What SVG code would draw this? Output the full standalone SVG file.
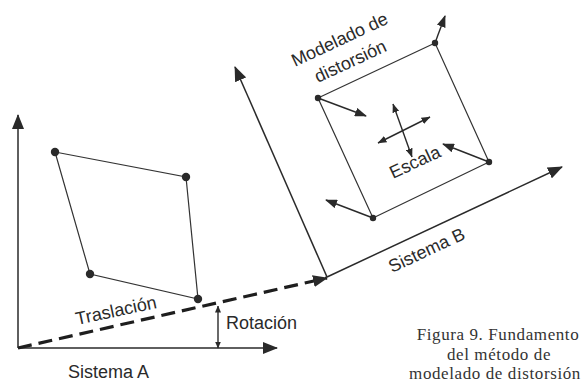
<svg xmlns="http://www.w3.org/2000/svg" width="588" height="382" viewBox="0 0 588 382">
<defs>
<style>
.ax{stroke:#2a2a2a;stroke-width:1.5;fill:none}
.ed{stroke:#333;stroke-width:1.2;fill:none}
.ar{stroke:#2a2a2a;stroke-width:1.4;fill:none}
.dot{fill:#2a2a2a}
.lbl{font-family:"Liberation Sans",Arial,sans-serif;font-size:18px;fill:#2a2a2a}
.cap{font-family:"Liberation Serif","Times New Roman",serif;font-size:17px;letter-spacing:0.6px;fill:#333;text-anchor:middle}
</style>
<marker id="big" markerUnits="userSpaceOnUse" viewBox="0 0 15 12" markerWidth="15" markerHeight="12" refX="14" refY="6" orient="auto-start-reverse"><path d="M0,0 L15,6 L0,12 z" fill="#2a2a2a"/></marker>
<marker id="mid" markerUnits="userSpaceOnUse" viewBox="0 0 12 9" markerWidth="12" markerHeight="9" refX="11" refY="4.5" orient="auto-start-reverse"><path d="M0,0 L12,4.5 L0,9 z" fill="#2a2a2a"/></marker>
<marker id="sm" markerUnits="userSpaceOnUse" viewBox="0 0 9 7" markerWidth="9" markerHeight="7" refX="8.5" refY="3.5" orient="auto-start-reverse"><path d="M0,0 L9,3.5 L0,7 z" fill="#2a2a2a"/></marker>
<marker id="tiny" markerUnits="userSpaceOnUse" viewBox="0 0 7 6" markerWidth="7" markerHeight="6" refX="6.5" refY="3" orient="auto-start-reverse"><path d="M0,0 L7,3 L0,6 z" fill="#2a2a2a"/></marker>
</defs>
<rect width="588" height="382" fill="#fff"/>

<g id="connectors">
<line class="ax" x1="18" y1="348" x2="18" y2="115" marker-end="url(#big)"/>
<line class="ax" x1="18" y1="348" x2="277" y2="348" marker-end="url(#big)"/>
<line x1="18" y1="348" x2="327" y2="278" stroke="#1e1e1e" stroke-width="3.2" stroke-dasharray="14,7" marker-end="url(#big)"/>
<line class="ar" x1="218" y1="306" x2="218" y2="348" marker-start="url(#tiny)" marker-end="url(#tiny)"/>
<line class="ax" x1="327" y1="277" x2="562" y2="167" marker-end="url(#big)"/>
<line class="ax" x1="327" y1="277" x2="235" y2="67" marker-end="url(#big)"/>
<line class="ar" x1="318" y1="98" x2="366" y2="116" marker-end="url(#mid)"/>
<line class="ar" x1="435" y1="43" x2="445" y2="16" marker-end="url(#mid)"/>
<line class="ar" x1="489" y1="162" x2="443" y2="144" marker-end="url(#mid)"/>
<line class="ar" x1="373" y1="218" x2="326" y2="200" marker-end="url(#mid)"/>
<line class="ar" x1="393" y1="104" x2="412" y2="157" marker-start="url(#sm)" marker-end="url(#sm)"/>
<line class="ar" x1="378" y1="143" x2="430" y2="117" marker-start="url(#sm)" marker-end="url(#sm)"/>
</g>

<g id="quadA">
<polygon class="ed" points="55,152 186,177 198,299 90,274"/>
<circle class="dot" cx="55" cy="152" r="4.2"/>
<circle class="dot" cx="186" cy="177" r="4.2"/>
<circle class="dot" cx="198" cy="299" r="4.2"/>
<circle class="dot" cx="90" cy="274" r="4.2"/>
</g>

<g id="quadB">
<polygon class="ed" points="318,98 435,43 489,162 373,218"/>
<circle class="dot" cx="318" cy="98" r="3.2"/>
<circle class="dot" cx="435" cy="43" r="3.2"/>
<circle class="dot" cx="489" cy="162" r="3.2"/>
<circle class="dot" cx="373" cy="218" r="3.2"/>
</g>

<g id="labels">
<text class="lbl" x="77" y="325" transform="rotate(-12 77 325)">Traslación</text>
<text class="lbl" x="226" y="329">Rotación</text>
<text class="lbl" x="68" y="378">Sistema A</text>
<text class="lbl" x="392" y="273" transform="rotate(-25 392 273)">Sistema B</text>
<text class="lbl" x="295" y="67" transform="rotate(-25 295 67)">Modelado de</text>
<text class="lbl" x="318" y="83" transform="rotate(-25 318 83)">distorsión</text>
<text class="lbl" x="393" y="179" transform="rotate(-25 393 179)">Escala</text>
</g>

<g id="caption">
<text class="cap" x="498" y="340">Figura 9. Fundamento</text>
<text class="cap" x="499" y="360">del método de</text>
<text class="cap" x="495" y="379">modelado de distorsión</text>
</g>
</svg>
